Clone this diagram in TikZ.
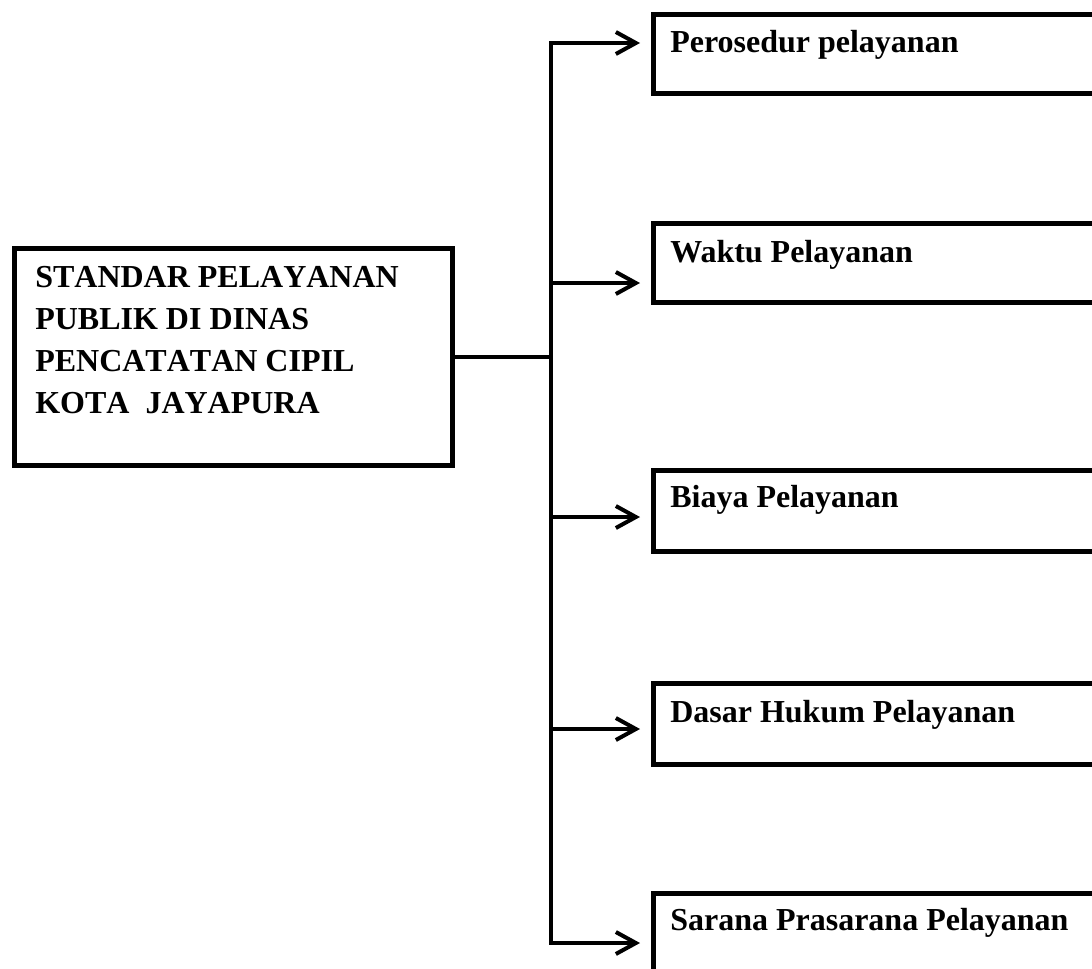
\documentclass[tikz,border=0pt]{standalone}
\usepackage{fontspec}
\setmainfont{Liberation Serif}
\usetikzlibrary{arrows.meta}
\begin{document}
\begin{tikzpicture}[x=0.75pt,y=-0.75pt,
  box/.style={draw,line width=3.6pt,rectangle,inner sep=0pt,anchor=north west},
  lbl/.style={anchor=base west,inner sep=0pt,font=\fontsize{24}{28}\selectfont\bfseries},
  mainlbl/.style={lbl,font=\fontsize{24}{28}\selectfont\bfseries\addfontfeatures{Kerning=Off}},
  conn/.style={line width=3.6pt},
  arr/.style={conn,-{Straight Barb[length=15pt,width=16.5pt,line width=3pt]}}]
\useasboundingbox (0,0) rectangle (1092,968);
\clip (0,0) rectangle (1092,968);
% main box
\node[box,minimum width=438*0.75pt,minimum height=217*0.75pt] (main) at (12,246) {};
\node[mainlbl] (m1) at (35,287) {STANDAR PELAYANAN};
\node[mainlbl] (m2) at (35,329) {PUBLIK DI DINAS};
\node[mainlbl] (m3) at (35,371) {PENCATATAN CIPIL};
\node[mainlbl] (m4) at (35,413) {KOTA\ \ JAYAPURA};
% right boxes
\node[box,minimum width=560*0.75pt,minimum height=79*0.75pt] (b1) at (651,12) {};
\node[box,minimum width=560*0.75pt,minimum height=79*0.75pt] (b2) at (651,221) {};
\node[box,minimum width=560*0.75pt,minimum height=81*0.75pt] (b3) at (651,468) {};
\node[box,minimum width=560*0.75pt,minimum height=81*0.75pt] (b4) at (651,681) {};
\node[box,minimum width=560*0.75pt,minimum height=120*0.75pt] (b5) at (651,891) {};
\node[lbl] (t1) at (670,52) {Perosedur pelayanan};
\node[lbl] (t2) at (670,262) {Waktu Pelayanan};
\node[lbl] (t3) at (670,507) {Biaya Pelayanan};
\node[lbl] (t4) at (670,722) {Dasar Hukum Pelayanan};
\node[lbl] (t5) at (670,930) {Sarana Prasarana Pelayanan};
% connectors
\coordinate (hub) at (551,357);
\coordinate (a1) at (640,43);
\coordinate (a2) at (640,283);
\coordinate (a3) at (640,517);
\coordinate (a4) at (640,729);
\coordinate (a5) at (640,943);
\draw[conn] (main.east |- hub) -- (hub);
\draw[arr] (hub) |- (a1);
\draw[arr] (hub) |- (a2);
\draw[arr] (hub) |- (a3);
\draw[arr] (hub) |- (a4);
\draw[arr] (hub) |- (a5);
\end{tikzpicture}
\end{document}
